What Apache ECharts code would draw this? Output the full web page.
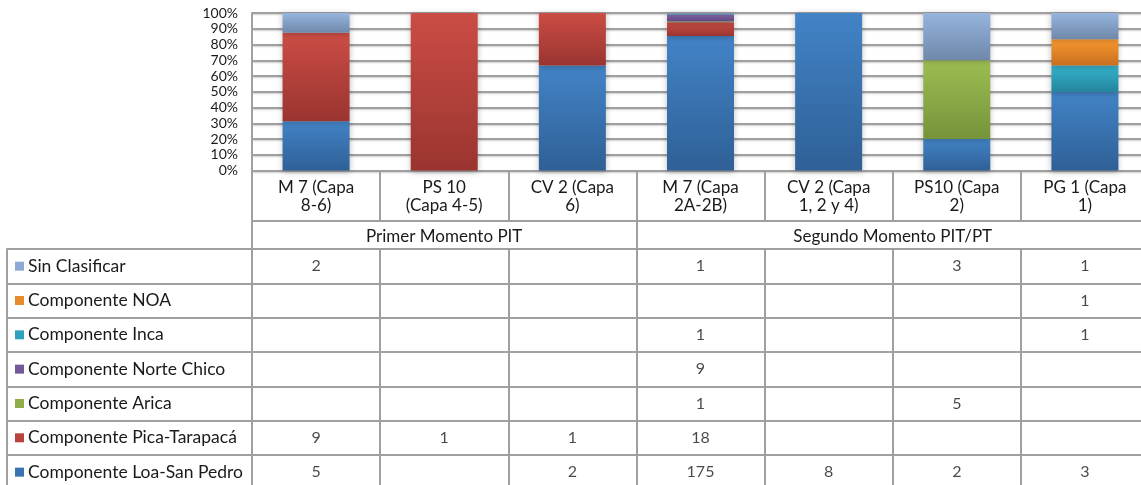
<!DOCTYPE html>
<html>
<head>
<meta charset="utf-8">
<script src="https://cdn.jsdelivr.net/npm/echarts@6/dist/echarts.min.js"></script>
<style>
  html, body { margin: 0; padding: 0; background: #fff; overflow: hidden; }
  #chart { width: 1149px; height: 490px; }
</style>
</head>
<body>
<div id="chart"></div>
<script>
// categorias (dos lineas por etiqueta)
const categories = [
  'M 7 (Capa\n8-6)', 'PS 10\n(Capa 4-5)', 'CV 2 (Capa\n6)',
  'M 7 (Capa\n2A-2B)', 'CV 2 (Capa\n1, 2 y 4)', 'PS10 (Capa\n2)', 'PG 1 (Capa\n1)'
];
const groupNames = ['Primer Momento PIT', 'Segundo Momento PIT/PT'];
const groupSizes = [3, 4];

// conteos por componente (tabla de datos)
const loaSanPedro   = [5, null, 2, 175, 8, 2, 3];
const picaTarapaca  = [9, 1, 1, 18, null, null, null];
const arica         = [null, null, null, 1, null, 5, null];
const norteChico    = [null, null, null, 9, null, null, null];
const inca          = [null, null, null, 1, null, null, 1];
const noa           = [null, null, null, null, null, null, 1];
const sinClasificar = [2, null, null, 1, null, 3, 1];

// orden de apilado: de abajo hacia arriba
const stacks = [
  { name: 'Componente Loa-San Pedro', values: loaSanPedro,   top: '#4283c6', bottom: '#2f6096', key: '#3b73b0' },
  { name: 'Componente Pica-Tarapacá', values: picaTarapaca,  top: '#cb4d45', bottom: '#9a3430', key: '#b8433e' },
  { name: 'Componente Arica',         values: arica,         top: '#9dbd52', bottom: '#76933a', key: '#8fae4a' },
  { name: 'Componente Norte Chico',   values: norteChico,    top: '#8466a8', bottom: '#5f4a80', key: '#71589a' },
  { name: 'Componente Inca',          values: inca,          top: '#36b2cb', bottom: '#22869e', key: '#2ea2bc' },
  { name: 'Componente NOA',           values: noa,           top: '#f8982e', bottom: '#c76f1f', key: '#e88a2e' },
  { name: 'Sin Clasificar',           values: sinClasificar, top: '#96b4de', bottom: '#6f88aa', key: '#8eaad4' }
];

const totals = categories.map((_, i) =>
  stacks.reduce((s, st) => s + (st.values[i] || 0), 0));

const tableRows = stacks.slice().reverse();

const GRAY = '#a0a0a0';
const TXT = '#1a1a1a';
const FONT = 'Lato';

const chart = echarts.init(document.getElementById('chart'), null, { renderer: 'canvas' });

const barSeries = stacks.map(st => ({
  name: st.name,
  type: 'bar',
  stack: 'total',
  xAxisIndex: 0,
  yAxisIndex: 0,
  barWidth: 67,
  silent: true,
  itemStyle: {
    color: new echarts.graphic.LinearGradient(0, 0, 0, 1, [
      { offset: 0, color: st.top },
      { offset: 1, color: st.bottom }
    ]),
    shadowBlur: 6,
    shadowColor: 'rgba(0,0,0,0.25)',
    shadowOffsetY: 1
  },
  data: st.values.map((v, i) => v == null ? null : v / totals[i] * 100)
}));

// celdas de la tabla
const cellData = [];
tableRows.forEach(row => {
  row.values.forEach((v, i) => {
    if (v != null) cellData.push([i, row.name, v]);
  });
});

const richKeys = {};
tableRows.forEach((row, idx) => {
  richKeys['k' + idx] = { backgroundColor: row.key, width: 9, height: 9 };
});
richKeys.t = { fontSize: 17.5, fontFamily: FONT, color: TXT, padding: [0, 0, 0, 4] };

const groupCenters = [];
const groupEdges = [0];
let acc = 0;
groupSizes.forEach(n => {
  groupCenters.push(acc + n / 2);
  acc += n;
  groupEdges.push(acc);
});

const option = {
  animation: false,
  textStyle: { fontFamily: FONT, color: TXT },
  grid: [
    { left: 252, width: 897, top: 13, height: 157.5 },
    { left: 252, width: 897, top: 249, height: 240.3 }
  ],
  xAxis: [
    {
      type: 'category',
      gridIndex: 0,
      data: categories,
      axisLine: { show: true, lineStyle: { color: GRAY, width: 2 } },
      axisTick: { show: true, interval: 0, length: 50, lineStyle: { color: GRAY, width: 2 } },
      axisLabel: { interval: 0, fontSize: 17, lineHeight: 18, margin: 8, color: TXT, fontFamily: FONT },
      splitLine: { show: false }
    },
    {
      type: 'category',
      gridIndex: 1,
      data: categories,
      axisLine: { show: false },
      axisTick: { show: false },
      axisLabel: { show: false },
      splitLine: { show: true, interval: 0, lineStyle: { color: GRAY, width: 2 } }
    },
    {
      type: 'value',
      gridIndex: 0,
      position: 'bottom',
      offset: 50,
      min: 0,
      max: categories.length,
      axisLine: { show: true, onZero: false, lineStyle: { color: GRAY, width: 2 } },
      axisTick: { show: true, customValues: groupEdges, length: 29, lineStyle: { color: GRAY, width: 2 } },
      axisLabel: {
        customValues: groupCenters,
        fontSize: 17, margin: 8, color: TXT, fontFamily: FONT,
        formatter: v => groupNames[groupCenters.indexOf(v)] || ''
      },
      splitLine: { show: false }
    }
  ],
  yAxis: [
    {
      type: 'value',
      gridIndex: 0,
      min: 0,
      max: 100,
      interval: 10,
      axisLine: { show: true, lineStyle: { color: GRAY, width: 2 } },
      axisTick: { show: false },
      axisLabel: { formatter: '{value}%', fontSize: 14, margin: 14, color: TXT, fontFamily: FONT },
      splitLine: { show: true, lineStyle: { color: GRAY, width: 2, shadowBlur: 2, shadowColor: 'rgba(0,0,0,0.2)', shadowOffsetY: 1 } }
    },
    {
      type: 'category',
      gridIndex: 1,
      inverse: true,
      data: tableRows.map(r => r.name),
      offset: 245,
      axisLine: { show: true, lineStyle: { color: GRAY, width: 2 } },
      axisTick: { show: true, inside: true, interval: 0, length: 245, lineStyle: { color: GRAY, width: 2 } },
      axisLabel: {
        inside: true,
        margin: 8,
        align: 'left',
        interval: 0,
        formatter: (name, idx) => '{k' + idx + '|}{t|' + name + '}',
        rich: richKeys
      },
      splitLine: { show: true, interval: 0, lineStyle: { color: GRAY, width: 2 } }
    }
  ],
  series: barSeries.concat([{
    type: 'scatter',
    xAxisIndex: 1,
    yAxisIndex: 1,
    symbolSize: 1,
    silent: true,
    itemStyle: { color: 'rgba(0,0,0,0)' },
    label: {
      show: true,
      position: 'inside',
      fontSize: 16,
      fontFamily: FONT,
      color: TXT,
      formatter: p => String(p.value[2])
    },
    data: cellData
  }])
};

chart.setOption(option);
</script>
</body>
</html>
